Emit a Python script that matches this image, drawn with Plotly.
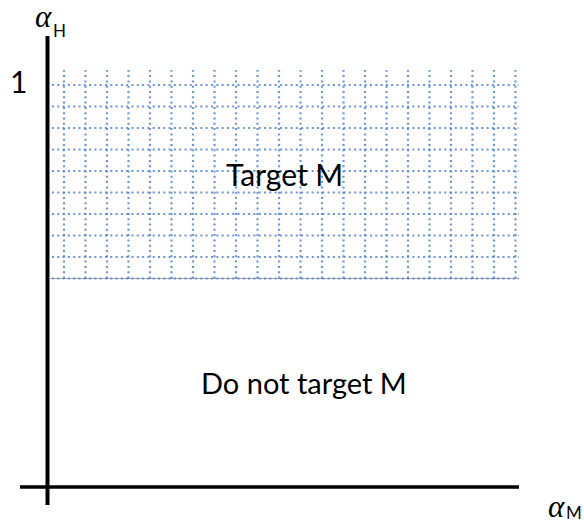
import plotly.graph_objects as go

# Decision regions in the (alpha_M, alpha_H) plane
alpha_m_max = 1.0          # right edge of the regions
alpha_h_max = 1.0          # top of the alpha_H axis (tick "1")
alpha_h_threshold = 0.5    # above this: target M
region_labels = ["Target M", "Do not target M"]
tick_labels = ["1"]
axis_labels = [("α", "H"), ("α", "M")]

W, H = 584, 523
# pixel geometry of the frame (origin and unit lengths)
ox, oy = 47.5, 487.0
ux, uy = 471.5, 417.0

x_range = [-ox / ux, (W - ox) / ux]
y_range = [-(H - oy) / uy, oy / uy]

fig = go.Figure()
fig.add_trace(go.Scatter(x=[0], y=[0], mode="markers",
                         marker=dict(opacity=0), hoverinfo="skip",
                         showlegend=False))

shapes = []

# dotted grid filling the "Target M" region
grid_color = "rgba(84,134,204,0.85)"
grid_dash = "2px,3.3px"
cell_x = 21.5 / ux
cell_y = 21.5 / uy
x_first = 16.5 / ux
region_left = 2.5 / ux

# boundary of the target region
shapes.append(dict(type="line", xref="x", yref="y",
                   x0=region_left, x1=alpha_m_max,
                   y0=alpha_h_threshold, y1=alpha_h_threshold,
                   line=dict(color="rgba(150,160,175,0.9)", width=1)))

k = 0
while x_first + k * cell_x <= alpha_m_max:
    xv = x_first + k * cell_x
    shapes.append(dict(type="line", xref="x", yref="y",
                       x0=xv, x1=xv, y0=alpha_h_threshold, y1=alpha_h_max,
                       line=dict(color=grid_color, width=2.2, dash=grid_dash)))
    k += 1

k = 0
while alpha_h_threshold + k * cell_y < alpha_h_max:
    yv = alpha_h_threshold + k * cell_y
    shapes.append(dict(type="line", xref="x", yref="y",
                       x0=region_left + 2 / ux, x1=alpha_m_max,
                       y0=yv, y1=yv,
                       line=dict(color=grid_color, width=2.2, dash=grid_dash)))
    k += 1

# axes
shapes.append(dict(type="line", xref="x", yref="y",
                   x0=0, x1=0, y0=-18 / uy, y1=451 / uy,
                   line=dict(color="black", width=4)))
shapes.append(dict(type="line", xref="x", yref="y",
                   x0=-27.5 / ux, x1=alpha_m_max, y0=0, y1=0,
                   line=dict(color="black", width=3.5)))

body_font = dict(family="Lato, Carlito, sans-serif", size=30, color="black")
greek_font = dict(family="Liberation Serif, serif", size=31, color="black")
sub_font = dict(family="Lato, sans-serif", size=17, color="black")

annotations = [
    dict(x=0.5 + 1.5 / ux, y=(alpha_h_threshold + alpha_h_max) / 2,
         text=region_labels[0], font=body_font),
    dict(x=0.5 + 21 / ux, y=alpha_h_threshold / 2,
         text=region_labels[1], font=dict(body_font, size=29)),
    dict(x=-29.5 / ux, y=alpha_h_max, yshift=-11,
         text=tick_labels[0], font=body_font),
    dict(x=-4 / ux, y=471 / uy,
         text="<i>%s</i>" % axis_labels[0][0], font=greek_font),
    dict(x=11.5 / ux, y=457 / uy,
         text=axis_labels[0][1], font=sub_font),
    dict(x=509 / ux, y=-19 / uy,
         text="<i>%s</i>" % axis_labels[1][0], font=greek_font),
    dict(x=526.5 / ux, y=-25 / uy,
         text=axis_labels[1][1], font=sub_font),
]
for a in annotations:
    a.update(xref="x", yref="y", showarrow=False, borderpad=0,
             xanchor="center", yanchor="middle")

fig.update_layout(
    width=W, height=H,
    margin=dict(l=0, r=0, t=0, b=0),
    paper_bgcolor="white", plot_bgcolor="white",
    xaxis=dict(range=x_range, visible=False, fixedrange=True),
    yaxis=dict(range=y_range, visible=False, fixedrange=True),
    shapes=shapes,
    annotations=annotations,
    showlegend=False,
)

fig.write_html("out.html")
